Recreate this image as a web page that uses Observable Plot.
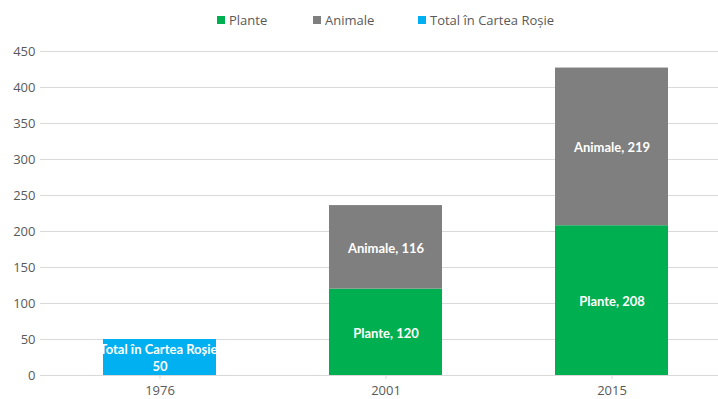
<!DOCTYPE html>
<html>
<head>
<meta charset="utf-8">
<script src="https://cdn.jsdelivr.net/npm/d3@7"></script>
<script src="https://cdn.jsdelivr.net/npm/@observablehq/plot@0.6"></script>
<style>
  html, body { margin: 0; padding: 0; background: #fff; }
  body { width: 718px; height: 399px; overflow: hidden; font-family: "Open Sans", sans-serif; }
  #legend { position: relative; height: 40px; font-size: 13px; color: #595959; }
  #legend .item { position: absolute; top: 0; height: 40px; display: flex; align-items: center; white-space: nowrap; }
  #legend .sw { width: 8px; height: 8px; margin-right: 4px; display: inline-block; }
</style>
</head>
<body>
<div id="legend"></div>
<div id="chart"></div>
<script>
const years = ["1976", "2001", "2015"];
const seriesNames = ["Plante", "Animale", "Total în Cartea Roșie"];
const seriesColors = ["#00B050", "#7F7F7F", "#00B0F0"];
const plante = [null, 120, 208];
const animale = [null, 116, 219];
const total = [50, null, null];
const yTicks = [0, 50, 100, 150, 200, 250, 300, 350, 400, 450];

const rows = [];
years.forEach((y, i) => {
  if (plante[i] != null) rows.push({year: y, series: seriesNames[0], value: plante[i]});
  if (animale[i] != null) rows.push({year: y, series: seriesNames[1], value: animale[i]});
  if (total[i] != null) rows.push({year: y, series: seriesNames[2], value: total[i]});
});
rows.forEach(d => {
  d.label = d.series === seriesNames[2] ? `${d.series},\n${d.value}` : `${d.series}, ${d.value}`;
});

// legend
const legend = document.getElementById("legend");
const lefts = [217, 313, 418];
seriesNames.forEach((s, i) => {
  const it = document.createElement("span");
  it.className = "item";
  it.style.left = lefts[i] + "px";
  it.innerHTML = `<span class="sw" style="background:${seriesColors[i]}"></span>${s}`;
  legend.appendChild(it);
});

const stackOpts = {x: "year", y: "value", z: "series", order: seriesNames};

const chart = Plot.plot({
  width: 718,
  height: 359,
  marginTop: 11,
  marginBottom: 24,
  marginLeft: 45,
  marginRight: 0,
  style: {fontFamily: "Open Sans, sans-serif", fontSize: "13px", color: "#595959", background: "#fff"},
  x: {domain: years, range: [45, 725], paddingInner: 0.5, paddingOuter: 0.25, label: null},
  y: {domain: [0, 450], ticks: yTicks, label: null},
  color: {domain: seriesNames, range: seriesColors},
  marks: [
    Plot.gridY(yTicks, {stroke: "#D9D9D9", strokeOpacity: 1}),
    Plot.ruleX([0], {x: () => 45, stroke: "#D9D9D9"}),
    Plot.axisY({ticks: yTicks, tickSize: 5, tickPadding: 5, stroke: "#D9D9D9", color: "#595959", fontSize: 13}),
    Plot.axisX({tickSize: 4, tickPadding: 6, stroke: "#D9D9D9", color: "#595959", fontSize: 13}),
    Plot.barY(rows, Plot.stackY({...stackOpts, fill: "series"})),
    Plot.ruleY([0], {stroke: "#D9D9D9"}),
    Plot.text(rows, Plot.stackY({...stackOpts, text: "label", fill: "white", fontWeight: "bold", fontFamily: "Lato, sans-serif", fontSize: 13, lineHeight: 1.3}))
  ]
});
document.getElementById("chart").appendChild(chart);
</script>
</body>
</html>
